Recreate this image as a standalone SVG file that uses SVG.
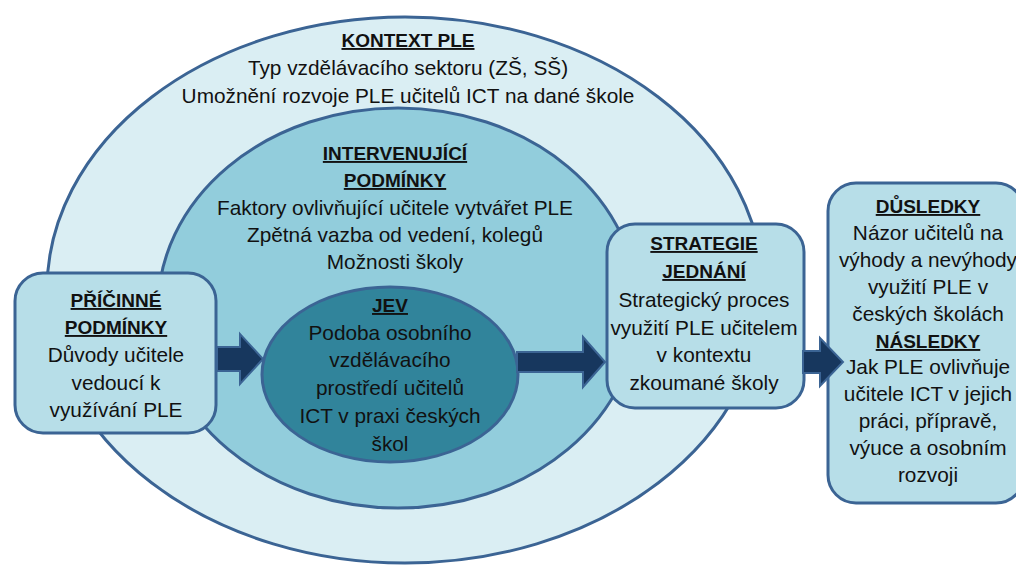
<svg xmlns="http://www.w3.org/2000/svg" width="1016" height="566" viewBox="0 0 1016 566">
  <style>
    .shape { stroke: #3B6494; stroke-width: 3; }
    .outer { fill: #DAEEF3; }
    .middle { fill: #92CDDC; }
    .core { fill: #31849B; }
    .box { fill: #B7DEE8; }
    text { font-family: "Liberation Sans", Arial, sans-serif; fill: #111111; text-anchor: middle; }
    .t { font-size: 20.8px; }
    .h { font-size: 19px; font-weight: bold; text-decoration: underline; }
    .arrow { fill: #17375E; stroke: #3B6494; stroke-width: 2; stroke-linejoin: miter; }
  </style>

  <!-- outer context ellipse -->
  <g id="kontext">
    <ellipse class="shape outer" cx="405" cy="290" rx="358" ry="273"/>
    <text class="h" x="408" y="47">KONTEXT PLE</text>
    <text class="t" x="408" y="75">Typ vzdělávacího sektoru (ZŠ, SŠ)</text>
    <text class="t" x="408" y="103">Umožnění rozvoje PLE učitelů ICT na dané škole</text>
  </g>

  <!-- intervening conditions -->
  <g id="intervenujici">
    <ellipse class="shape middle" cx="398" cy="308" rx="240" ry="200"/>
    <text class="h" x="395" y="160">INTERVENUJÍCÍ</text>
    <text class="h" x="395" y="187">PODMÍNKY</text>
    <text class="t" x="395" y="215">Faktory ovlivňující učitele vytvářet PLE</text>
    <text class="t" x="395" y="242">Zpětná vazba od vedení, kolegů</text>
    <text class="t" x="395" y="269">Možnosti školy</text>
  </g>

  <!-- phenomenon -->
  <g id="jev">
    <ellipse class="shape core" cx="390" cy="374.5" rx="128" ry="87.5"/>
    <text class="h" x="390" y="312">JEV</text>
    <text class="t" x="390" y="340">Podoba osobního</text>
    <text class="t" x="390" y="367">vzdělávacího</text>
    <text class="t" x="390" y="395">prostředí učitelů</text>
    <text class="t" x="390" y="423">ICT v praxi českých</text>
    <text class="t" x="390" y="451">škol</text>
  </g>

  <!-- causal conditions -->
  <g id="pricinne">
    <rect class="shape box" x="15" y="273" width="201" height="160" rx="28"/>
    <text class="h" x="116" y="307">PŘÍČINNÉ</text>
    <text class="h" x="116" y="334">PODMÍNKY</text>
    <text class="t" x="116" y="362">Důvody učitele</text>
    <text class="t" x="116" y="390">vedoucí k</text>
    <text class="t" x="116" y="417">využívání PLE</text>
  </g>

  <!-- action strategies -->
  <g id="strategie">
    <rect class="shape box" x="607" y="224" width="197" height="184" rx="28"/>
    <text class="h" x="704" y="250">STRATEGIE</text>
    <text class="h" x="704" y="278">JEDNÁNÍ</text>
    <text class="t" x="704" y="307">Strategický proces</text>
    <text class="t" x="704" y="335">využití PLE učitelem</text>
    <text class="t" x="704" y="362">v kontextu</text>
    <text class="t" x="704" y="390">zkoumané školy</text>
  </g>

  <!-- consequences -->
  <g id="dusledky">
    <rect class="shape box" x="828" y="183" width="196" height="320" rx="28"/>
    <text class="h" x="928" y="213">DŮSLEDKY</text>
    <text class="t" x="928" y="240">Názor učitelů na</text>
    <text class="t" x="928" y="267">výhody a nevýhody</text>
    <text class="t" x="928" y="294">využití PLE v</text>
    <text class="t" x="928" y="321">českých školách</text>
    <text class="h" x="928" y="348">NÁSLEDKY</text>
    <text class="t" x="928" y="374">Jak PLE ovlivňuje</text>
    <text class="t" x="928" y="401">učitele ICT v jejich</text>
    <text class="t" x="928" y="428">práci, přípravě,</text>
    <text class="t" x="928" y="455">výuce a osobním</text>
    <text class="t" x="928" y="482">rozvoji</text>
  </g>

  <!-- block arrows between stages -->
  <g id="connectors">
    <polygon class="arrow" points="217,347 240,347 240,334 263,359 240,384 240,371 217,371"/>
    <polygon class="arrow" points="517,352 583,352 583,337 605,362 583,387 583,372 517,372"/>
    <polygon class="arrow" points="803,351 820,351 820,338 843,362 820,386 820,373 803,373"/>
  </g>
</svg>
